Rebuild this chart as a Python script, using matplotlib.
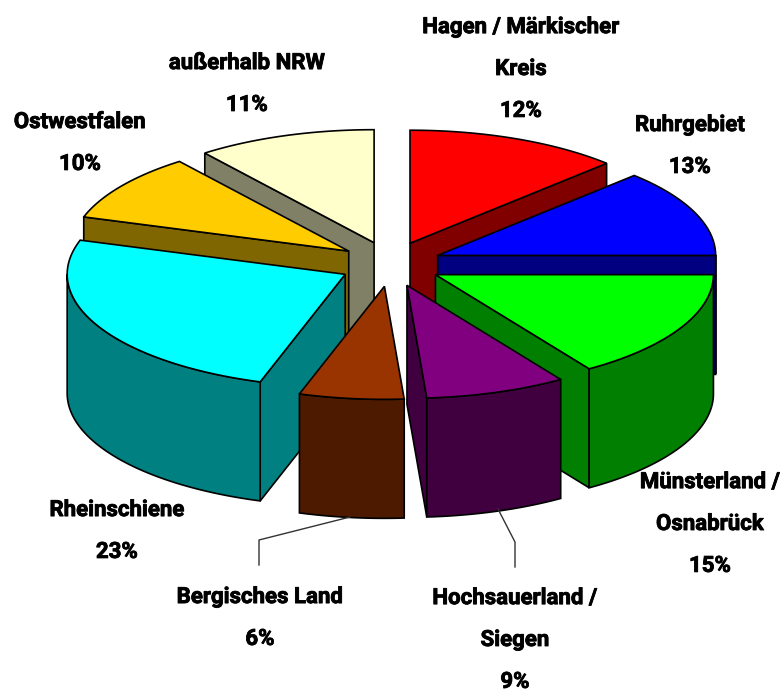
import matplotlib
matplotlib.use("Agg")
import matplotlib.pyplot as plt
import matplotlib.patheffects as pe
import numpy as np

# slices clockwise from 12 o'clock
names = ["Hagen / Märkischer\nKreis", "Ruhrgebiet", "Münsterland /\nOsnabrück",
         "Hochsauerland /\nSiegen", "Bergisches Land", "Rheinschiene",
         "Ostwestfalen", "außerhalb NRW"]
percent_labels = ["12%", "13%", "15%", "9%", "6%", "23%", "10%", "11%"]
# shares as drawn in the picture (the printed labels are rounded differently)
shares = [12.5, 12.5, 15.67, 8.19, 6.08, 24.94, 9.69, 10.42]

top_colors = ["#ff0000", "#0000ff", "#00ff00", "#800080", "#993300", "#00ffff", "#ffcc00", "#ffffcc"]
side_colors = ["#800000", "#000080", "#007f00", "#400040", "#4d1a00", "#008080", "#806600", "#808066"]

label_x = [521, 690, 710, 515, 260, 117, 80, 247]
label_y = [69, 146, 524, 640, 618, 531, 143, 84]

cx, cy = 390.5, 264
rx, ry = 278, 113
explode_x, explode_y = 51, 22.5
height = 119

plt.rcParams["font.family"] = ["Roboto", "Liberation Sans", "DejaVu Sans"]

fig = plt.figure(figsize=(7.82, 6.96), dpi=100)
ax = fig.add_axes([0, 0, 1, 1])
ax.set_xlim(0, 782)
ax.set_ylim(696, 0)
ax.axis("off")

edges = np.radians(np.concatenate([[0], np.cumsum(shares)]) / np.sum(shares) * 360)


def rim(x0, y0, a, b):
    t = np.linspace(a, b, 80)
    return x0 + rx * np.sin(t), y0 - ry * np.cos(t)


def draw_slice(i):
    a, b = edges[i], edges[i + 1]
    mid = (a + b) / 2
    x0 = cx + explode_x * np.sin(mid)
    y0 = cy - explode_y * np.cos(mid)
    side = side_colors[i]

    # cut faces, only those turned to the viewer
    for t, visible in ((a, np.sin(a) < -1e-6), (b, np.sin(b) > 1e-6)):
        if visible:
            x1 = x0 + rx * np.sin(t)
            y1 = y0 - ry * np.cos(t)
            ax.fill([x0, x1, x1, x0], [y0, y1, y1 + height, y0 + height],
                    fc=side, ec="black", lw=1.2, zorder=i_order[i])

    # outer wall, front half only
    lo, hi = max(a, np.pi / 2), min(b, 3 * np.pi / 2)
    if lo < hi:
        xs, ys = rim(x0, y0, lo, hi)
        ax.fill(np.r_[xs, xs[::-1]], np.r_[ys, ys[::-1] + height],
                fc=side, ec="black", lw=1.2, zorder=i_order[i])

    xs, ys = rim(x0, y0, a, b)
    ax.fill(np.r_[x0, xs], np.r_[y0, ys], fc=top_colors[i], ec="black", lw=1.2,
            zorder=i_order[i] + 0.5)


# back to front: red, cream, gold, blue, cyan, green, brown, purple
draw_order = [0, 7, 6, 1, 5, 2, 4, 3]
i_order = {s: n + 1 for n, s in enumerate(draw_order)}
for s in draw_order:
    draw_slice(s)

# leader lines
ax.plot([350, 259, 259], [517, 540, 565], color="#333333", lw=1, zorder=20)
ax.plot([498, 515, 515], [509, 542, 567], color="#333333", lw=1, zorder=20)

for i in range(len(names)):
    t = ax.text(label_x[i], label_y[i], names[i] + "\n" + percent_labels[i], ha="center", va="center",
                fontsize=16, fontweight="bold", linespacing=2.17, color="black", zorder=30)
    t.set_path_effects([pe.withStroke(linewidth=0.6, foreground="black")])

fig.savefig("out.png", dpi=100)
